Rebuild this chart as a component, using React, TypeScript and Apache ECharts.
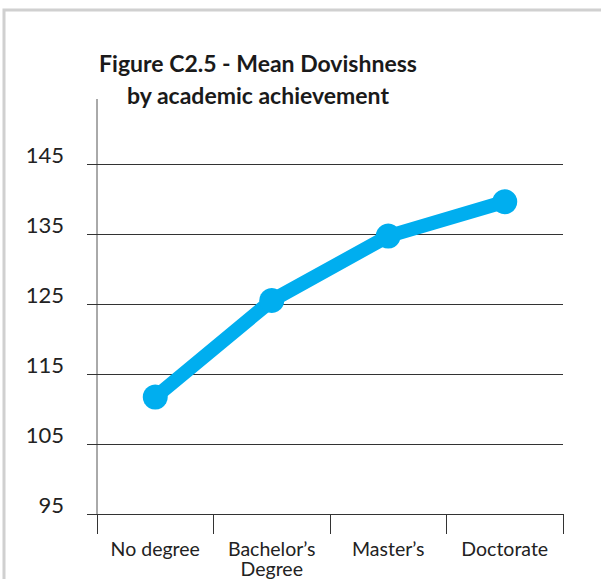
import React, { useEffect, useRef } from "react";
import * as echarts from "echarts";

const categories = ["No degree", "Bachelor\u2019s\nDegree", "Master\u2019s", "Doctorate"];
const meanDovishness = [111.7, 125.5, 134.7, 139.6];
const yMin = 95;
const yMax = 145;
const yStep = 10;
const titleText = "Figure C2.5 - Mean Dovishness\nby academic achievement";

export default function App() {
  const ref = useRef<HTMLDivElement>(null);
  useEffect(() => {
    if (!ref.current) return;
    const chart = echarts.init(ref.current, null, { renderer: "svg" });
    chart.setOption({
      animation: false,
      backgroundColor: "#ffffff",
      grid: { left: 97, right: 38, top: 164, bottom: 65, containLabel: false },
      graphic: [
        {
          type: "rect",
          shape: { x: 4, y: 10, width: 800, height: 800 },
          style: { fill: "none", stroke: "#d0d0d0", lineWidth: 3 },
          silent: true,
        },
        {
          type: "line",
          shape: { x1: 97, y1: 99, x2: 97, y2: 514 },
          style: { stroke: "#555555", lineWidth: 1 },
          silent: true,
        },
        {
          type: "text",
          x: 258,
          y: 79,
          style: {
            text: titleText,
            fill: "#1a1a1a",
            font: "bold 23px Lato",
            lineHeight: 32,
            textAlign: "center",
            textVerticalAlign: "middle",
          },
          silent: true,
        },
      ],
      xAxis: {
        type: "category",
        data: categories,
        boundaryGap: true,
        axisLine: { show: true, lineStyle: { color: "#333333", width: 1 } },
        axisTick: { show: true, length: 20, interval: 0, lineStyle: { color: "#333333" } },
        axisLabel: {
          interval: 0,
          margin: 25,
          fontFamily: "Lato",
          fontSize: 19.5,
          color: "#222222",
          lineHeight: 19.5,
        },
        splitLine: { show: false },
      },
      yAxis: {
        type: "value",
        min: yMin,
        max: yMax,
        interval: yStep,
        axisLine: { show: false },
        axisTick: { show: true, length: 10, lineStyle: { color: "#333333" } },
        axisLabel: {
          margin: 33,
          fontFamily: "Lato",
          fontSize: 22,
          color: "#222222",
          verticalAlign: "bottom",
          lineHeight: 20,
        },
        splitLine: { show: true, lineStyle: { color: "#333333", width: 1 } },
      },
      series: [
        {
          type: "line",
          data: meanDovishness,
          symbol: "circle",
          symbolSize: 25,
          lineStyle: { color: "#00AEEF", width: 14 },
          itemStyle: { color: "#00AEEF" },
        },
      ],
    });
    return () => chart.dispose();
  }, []);
  return (
    <div
      ref={ref}
      style={{ position: "fixed", left: 0, top: 0, width: 601, height: 579 }}
    />
  );
}
